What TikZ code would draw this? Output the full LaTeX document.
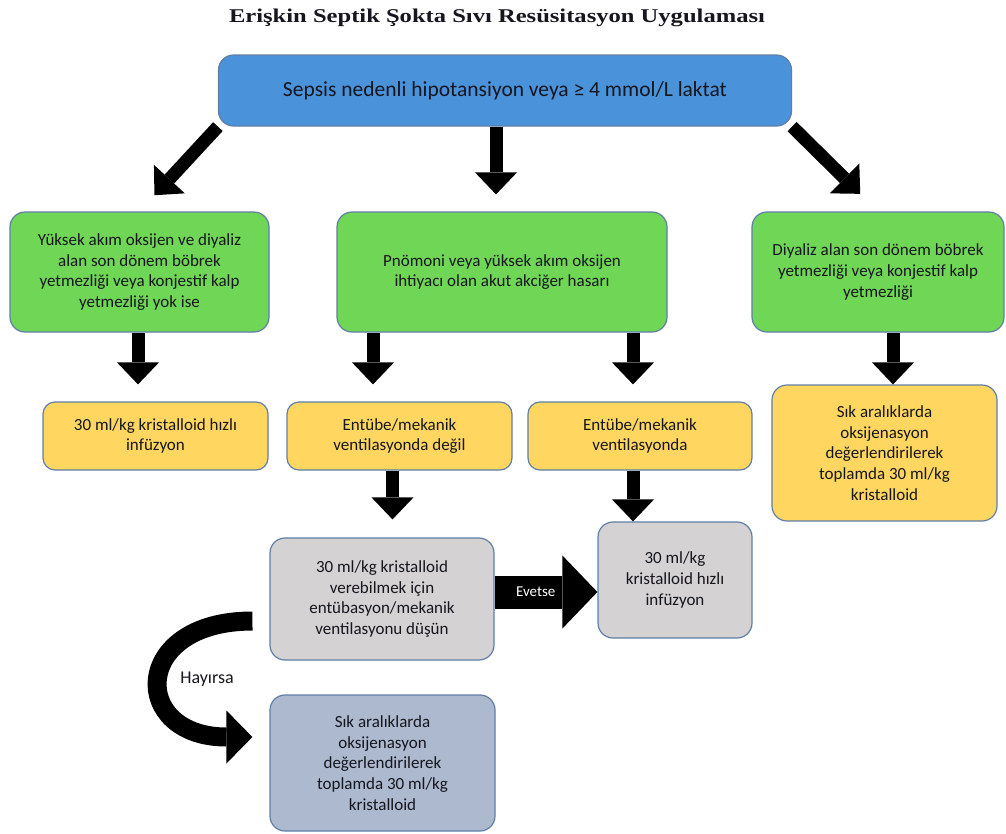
\documentclass[tikz,border=0pt]{standalone}
\usepackage{fontspec}
\setmainfont{Carlito}
\newfontfamily\titlefont{Liberation Serif}
\usetikzlibrary{arrows.meta}

\definecolor{topblue}{RGB}{74,146,218}
\definecolor{condgreen}{RGB}{112,214,86}
\definecolor{stepyellow}{RGB}{255,215,96}
\definecolor{actgray}{RGB}{212,210,210}
\definecolor{endblue}{RGB}{172,185,206}
\definecolor{rim}{RGB}{96,126,166}
\definecolor{ink}{RGB}{22,22,30}

\begin{document}
\begin{tikzpicture}[x=1pt,y=-1pt]
\tikzstyle{every node}=[text=ink, align=center, font=\fontsize{17}{20.8}\selectfont];
\tikzstyle{box}=[draw=rim, line width=1.2pt, rounded corners=15pt, inner sep=0pt];
\tikzstyle{fat}=[line width=13pt, -{Triangle[width=42pt,length=22pt,line width=0pt]}];
\useasboundingbox (0,0) rectangle (1006,833);

   \node[font=\titlefont\bfseries\fontsize{19.5}{22}\selectfont] (title) at (497,18)
      {\scalebox{1.26}[1]{Erişkin Septik Şokta Sıvı Resüsitasyon Uygulaması}};
   \node[box, fill=topblue, minimum width=573, minimum height=71,
         font=\fontsize{21.5}{24}\selectfont] (start) at (505,90.5)
      {Sepsis nedenli hipotansiyon veya ≥ 4 mmol/L laktat};

   \node[box, fill=condgreen, minimum width=259, minimum height=120] (cond1) at (139.5,272)
      {Yüksek akım oksijen ve diyaliz\\alan son dönem böbrek\\yetmezliği veya konjestif kalp\\yetmezliği yok ise};
   \node[box, fill=condgreen, minimum width=330, minimum height=120] (cond2) at (502,272)
      {Pnömoni veya yüksek akım oksijen\\ihtiyacı olan akut akciğer hasarı};
   \node[box, fill=condgreen, minimum width=252, minimum height=120] (cond3) at (878,272)
      {Diyaliz alan son dönem böbrek\\yetmezliği veya konjestif kalp\\yetmezliği};

   \node[box, fill=stepyellow, minimum width=225, minimum height=68, rounded corners=12pt] (step1) at (155.5,436)
      {30 ml/kg kristalloid hızlı\\infüzyon};
   \node[box, fill=stepyellow, minimum width=225, minimum height=68, rounded corners=12pt] (step2) at (399.5,436)
      {Entübe/mekanik\\ventilasyonda değil};
   \node[box, fill=stepyellow, minimum width=224, minimum height=68, rounded corners=12pt] (step3) at (640,436)
      {Entübe/mekanik\\ventilasyonda};
   \node[box, fill=stepyellow, minimum width=225, minimum height=136] (step4) at (884.5,453)
      {Sık aralıklarda\\oksijenasyon\\değerlendirilerek\\toplamda 30 ml/kg\\kristalloid};

   \node[box, fill=actgray, minimum width=224, minimum height=122] (act1) at (382,599)
      {30 ml/kg kristalloid\\verebilmek için\\entübasyon/mekanik\\ventilasyonu düşün};
   \node[box, fill=actgray, minimum width=154, minimum height=116] (act2) at (675,580)
      {30 ml/kg\\kristalloid hızlı\\infüzyon};
   \node[box, fill=endblue, minimum width=225, minimum height=136] (final) at (382.5,763)
      {Sık aralıklarda\\oksijenasyon\\değerlendirilerek\\toplamda 30 ml/kg\\kristalloid};

  % first split
  \draw[fat, shorten >=22pt] (start.south west) -- (cond1.north);
  \draw[fat, shorten >=17pt] ([xshift=-6pt]start.south -| cond2.north) -- ([xshift=-6pt]cond2.north);
  \draw[fat, shorten >=25pt] (start.south east) -- (cond3.north);

  % down to the yellow row
  \draw[fat] ([xshift=-1.5pt]cond1.south) -- ([xshift=-1.5pt,yshift=17pt]cond1.south |- step1.north);
  \draw[fat] ([xshift=-129pt]cond2.south) -- ([xshift=-129pt,yshift=17pt]cond2.south |- step2.north);
  \draw[fat] ([xshift=131pt]cond2.south) -- ([xshift=131pt,yshift=17pt]cond2.south |- step3.north);
  \draw[fat] ([xshift=15pt]cond3.south) -- ([xshift=15pt]cond3.south |- step4.north);
  \draw[fat] ([xshift=-7pt]step2.south) -- ([xshift=-7pt,yshift=18pt]step2.south |- act1.north);
  \draw[fat] ([xshift=-7pt]step3.south) -- ([xshift=-7pt]step3.south |- act2.north);

  % yes / no
  \draw[line width=33pt, -{Triangle[width=73pt,length=35pt,line width=0pt]}]
     ([yshift=7pt]act1.east) -- ([yshift=7pt]act1.east -| act2.west)
     node[pos=0.4, text=white, font=\fontsize{15}{17}\selectfont] (yes) {Evetse};
  \coordinate (noA) at ([xshift=-17pt,yshift=-22pt]act1.west);
  \coordinate (noB) at ([xshift=-17pt,yshift=26pt]final.west);
  \draw[line width=19pt, -{Triangle[width=53pt,length=26pt,line width=0pt]}]
     (noA) .. controls (130,621) and (130,737) .. (noB);
  \node[font=\fontsize{18}{20}\selectfont] (no) at (207,679) {Hayırsa};
\end{tikzpicture}
\end{document}
